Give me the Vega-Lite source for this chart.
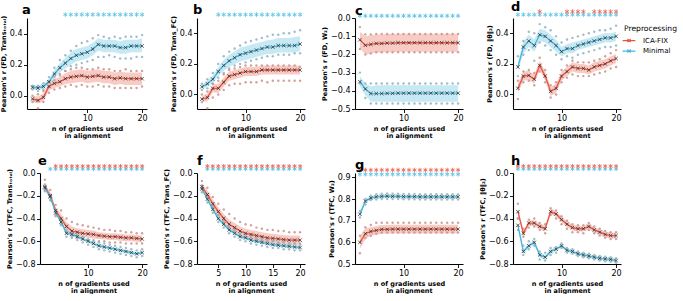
{
"$schema": "https://vega.github.io/schema/vega-lite/v6.json",
"padding": {"left": 0, "top": 0, "right": 0, "bottom": 0},
"background": "white",
"data": {"name": "main"},
"datasets": {"main": [
{"p":"a","g":"Minimal","n":0,"m":0.055,"lo":0.04,"hi":0.07,"s1":0.065,"s2":0.04},
{"p":"a","g":"Minimal","n":1,"m":0.05,"lo":0.035,"hi":0.065,"s1":0.065,"s2":0.03},
{"p":"a","g":"Minimal","n":2,"m":0.06,"lo":0.045,"hi":0.075,"s1":0.08,"s2":0.04},
{"p":"a","g":"Minimal","n":3,"m":0.09,"lo":0.07,"hi":0.11,"s1":0.12,"s2":0.06},
{"p":"a","g":"Minimal","n":4,"m":0.14,"lo":0.115,"hi":0.165,"s1":0.18,"s2":0.1},
{"p":"a","g":"Minimal","n":5,"m":0.18,"lo":0.15,"hi":0.21,"s1":0.23,"s2":0.13},
{"p":"a","g":"Minimal","n":6,"m":0.21,"lo":0.175,"hi":0.245,"s1":0.26,"s2":0.16,"sig":1},
{"p":"a","g":"Minimal","n":7,"m":0.24,"lo":0.2,"hi":0.28,"s1":0.29,"s2":0.19,"sig":1},
{"p":"a","g":"Minimal","n":8,"m":0.26,"lo":0.22,"hi":0.3,"s1":0.32,"s2":0.2,"sig":1},
{"p":"a","g":"Minimal","n":9,"m":0.27,"lo":0.23,"hi":0.31,"s1":0.34,"s2":0.21,"sig":1},
{"p":"a","g":"Minimal","n":10,"m":0.28,"lo":0.24,"hi":0.32,"s1":0.35,"s2":0.22,"sig":1},
{"p":"a","g":"Minimal","n":11,"m":0.3,"lo":0.26,"hi":0.34,"s1":0.37,"s2":0.23,"sig":1},
{"p":"a","g":"Minimal","n":12,"m":0.33,"lo":0.29,"hi":0.37,"s1":0.39,"s2":0.25,"sig":1},
{"p":"a","g":"Minimal","n":13,"m":0.32,"lo":0.28,"hi":0.36,"s1":0.38,"s2":0.25,"sig":1},
{"p":"a","g":"Minimal","n":14,"m":0.32,"lo":0.28,"hi":0.36,"s1":0.37,"s2":0.26,"sig":1},
{"p":"a","g":"Minimal","n":15,"m":0.32,"lo":0.28,"hi":0.36,"s1":0.38,"s2":0.25,"sig":1},
{"p":"a","g":"Minimal","n":16,"m":0.31,"lo":0.27,"hi":0.35,"s1":0.37,"s2":0.24,"sig":1},
{"p":"a","g":"Minimal","n":17,"m":0.31,"lo":0.27,"hi":0.36,"s1":0.38,"s2":0.24,"sig":1},
{"p":"a","g":"Minimal","n":18,"m":0.32,"lo":0.28,"hi":0.36,"s1":0.38,"s2":0.24,"sig":1},
{"p":"a","g":"Minimal","n":19,"m":0.32,"lo":0.28,"hi":0.36,"s1":0.38,"s2":0.25,"sig":1},
{"p":"a","g":"Minimal","n":20,"m":0.32,"lo":0.28,"hi":0.37,"s1":0.39,"s2":0.25,"sig":1},
{"p":"a","g":"ICA-FIX","n":0,"m":-0.02,"lo":-0.04,"hi":0.0,"s1":0.0,"s2":-0.04},
{"p":"a","g":"ICA-FIX","n":1,"m":-0.03,"lo":-0.05,"hi":-0.005,"s1":0.01,"s2":-0.08},
{"p":"a","g":"ICA-FIX","n":2,"m":-0.01,"lo":-0.035,"hi":0.015,"s1":0.03,"s2":-0.04},
{"p":"a","g":"ICA-FIX","n":3,"m":0.06,"lo":0.035,"hi":0.085,"s1":0.09,"s2":0.02},
{"p":"a","g":"ICA-FIX","n":4,"m":0.08,"lo":0.05,"hi":0.11,"s1":0.12,"s2":0.04},
{"p":"a","g":"ICA-FIX","n":5,"m":0.09,"lo":0.06,"hi":0.12,"s1":0.14,"s2":0.05},
{"p":"a","g":"ICA-FIX","n":6,"m":0.11,"lo":0.075,"hi":0.145,"s1":0.16,"s2":0.06},
{"p":"a","g":"ICA-FIX","n":7,"m":0.12,"lo":0.08,"hi":0.16,"s1":0.17,"s2":0.07},
{"p":"a","g":"ICA-FIX","n":8,"m":0.125,"lo":0.085,"hi":0.165,"s1":0.18,"s2":0.06},
{"p":"a","g":"ICA-FIX","n":9,"m":0.13,"lo":0.09,"hi":0.17,"s1":0.18,"s2":0.07},
{"p":"a","g":"ICA-FIX","n":10,"m":0.12,"lo":0.08,"hi":0.16,"s1":0.17,"s2":0.06},
{"p":"a","g":"ICA-FIX","n":11,"m":0.125,"lo":0.085,"hi":0.165,"s1":0.17,"s2":0.06},
{"p":"a","g":"ICA-FIX","n":12,"m":0.13,"lo":0.09,"hi":0.17,"s1":0.18,"s2":0.07},
{"p":"a","g":"ICA-FIX","n":13,"m":0.12,"lo":0.08,"hi":0.16,"s1":0.17,"s2":0.06},
{"p":"a","g":"ICA-FIX","n":14,"m":0.12,"lo":0.08,"hi":0.16,"s1":0.17,"s2":0.06},
{"p":"a","g":"ICA-FIX","n":15,"m":0.11,"lo":0.07,"hi":0.15,"s1":0.16,"s2":0.05},
{"p":"a","g":"ICA-FIX","n":16,"m":0.115,"lo":0.075,"hi":0.155,"s1":0.16,"s2":0.05},
{"p":"a","g":"ICA-FIX","n":17,"m":0.11,"lo":0.07,"hi":0.15,"s1":0.17,"s2":0.05},
{"p":"a","g":"ICA-FIX","n":18,"m":0.11,"lo":0.07,"hi":0.15,"s1":0.16,"s2":0.05},
{"p":"a","g":"ICA-FIX","n":19,"m":0.11,"lo":0.07,"hi":0.15,"s1":0.16,"s2":0.05},
{"p":"a","g":"ICA-FIX","n":20,"m":0.11,"lo":0.07,"hi":0.15,"s1":0.16,"s2":0.06},

{"p":"b","g":"Minimal","n":2,"m":0.05,"lo":0.035,"hi":0.065,"s1":0.07,"s2":0.03},
{"p":"b","g":"Minimal","n":3,"m":0.07,"lo":0.05,"hi":0.09,"s1":0.1,"s2":0.04},
{"p":"b","g":"Minimal","n":4,"m":0.1,"lo":0.075,"hi":0.125,"s1":0.14,"s2":0.07},
{"p":"b","g":"Minimal","n":5,"m":0.15,"lo":0.12,"hi":0.18,"s1":0.2,"s2":0.11,"sig":1},
{"p":"b","g":"Minimal","n":6,"m":0.19,"lo":0.155,"hi":0.225,"s1":0.25,"s2":0.14,"sig":1},
{"p":"b","g":"Minimal","n":7,"m":0.22,"lo":0.18,"hi":0.26,"s1":0.28,"s2":0.17,"sig":1},
{"p":"b","g":"Minimal","n":8,"m":0.24,"lo":0.2,"hi":0.28,"s1":0.3,"s2":0.19,"sig":1},
{"p":"b","g":"Minimal","n":9,"m":0.26,"lo":0.215,"hi":0.305,"s1":0.32,"s2":0.2,"sig":1},
{"p":"b","g":"Minimal","n":10,"m":0.27,"lo":0.225,"hi":0.315,"s1":0.34,"s2":0.21,"sig":1},
{"p":"b","g":"Minimal","n":11,"m":0.28,"lo":0.235,"hi":0.325,"s1":0.35,"s2":0.22,"sig":1},
{"p":"b","g":"Minimal","n":12,"m":0.29,"lo":0.245,"hi":0.335,"s1":0.36,"s2":0.23,"sig":1},
{"p":"b","g":"Minimal","n":13,"m":0.3,"lo":0.255,"hi":0.345,"s1":0.37,"s2":0.24,"sig":1},
{"p":"b","g":"Minimal","n":14,"m":0.31,"lo":0.265,"hi":0.355,"s1":0.38,"s2":0.25,"sig":1},
{"p":"b","g":"Minimal","n":15,"m":0.31,"lo":0.265,"hi":0.36,"s1":0.39,"s2":0.25,"sig":1},
{"p":"b","g":"Minimal","n":16,"m":0.32,"lo":0.275,"hi":0.37,"s1":0.39,"s2":0.26,"sig":1},
{"p":"b","g":"Minimal","n":17,"m":0.32,"lo":0.275,"hi":0.37,"s1":0.4,"s2":0.26,"sig":1},
{"p":"b","g":"Minimal","n":18,"m":0.32,"lo":0.275,"hi":0.37,"s1":0.4,"s2":0.26,"sig":1},
{"p":"b","g":"Minimal","n":19,"m":0.32,"lo":0.275,"hi":0.375,"s1":0.41,"s2":0.27,"sig":1},
{"p":"b","g":"Minimal","n":20,"m":0.33,"lo":0.285,"hi":0.38,"s1":0.42,"s2":0.27,"sig":1},
{"p":"b","g":"ICA-FIX","n":2,"m":-0.03,"lo":-0.05,"hi":-0.01,"s1":0.0,"s2":-0.05},
{"p":"b","g":"ICA-FIX","n":3,"m":-0.02,"lo":-0.045,"hi":0.005,"s1":0.02,"s2":-0.09},
{"p":"b","g":"ICA-FIX","n":4,"m":0.04,"lo":0.015,"hi":0.065,"s1":0.07,"s2":-0.02},
{"p":"b","g":"ICA-FIX","n":5,"m":0.04,"lo":0.01,"hi":0.07,"s1":0.09,"s2":0.0},
{"p":"b","g":"ICA-FIX","n":6,"m":0.08,"lo":0.05,"hi":0.11,"s1":0.13,"s2":0.03},
{"p":"b","g":"ICA-FIX","n":7,"m":0.12,"lo":0.09,"hi":0.15,"s1":0.16,"s2":0.06},
{"p":"b","g":"ICA-FIX","n":8,"m":0.13,"lo":0.1,"hi":0.16,"s1":0.17,"s2":0.07},
{"p":"b","g":"ICA-FIX","n":9,"m":0.14,"lo":0.11,"hi":0.17,"s1":0.18,"s2":0.07},
{"p":"b","g":"ICA-FIX","n":10,"m":0.15,"lo":0.12,"hi":0.18,"s1":0.19,"s2":0.08},
{"p":"b","g":"ICA-FIX","n":11,"m":0.15,"lo":0.12,"hi":0.18,"s1":0.19,"s2":0.08},
{"p":"b","g":"ICA-FIX","n":12,"m":0.15,"lo":0.12,"hi":0.18,"s1":0.19,"s2":0.08},
{"p":"b","g":"ICA-FIX","n":13,"m":0.16,"lo":0.13,"hi":0.19,"s1":0.19,"s2":0.09},
{"p":"b","g":"ICA-FIX","n":14,"m":0.16,"lo":0.13,"hi":0.19,"s1":0.19,"s2":0.08},
{"p":"b","g":"ICA-FIX","n":15,"m":0.16,"lo":0.13,"hi":0.19,"s1":0.19,"s2":0.09},
{"p":"b","g":"ICA-FIX","n":16,"m":0.16,"lo":0.13,"hi":0.19,"s1":0.19,"s2":0.09},
{"p":"b","g":"ICA-FIX","n":17,"m":0.16,"lo":0.13,"hi":0.19,"s1":0.19,"s2":0.09},
{"p":"b","g":"ICA-FIX","n":18,"m":0.16,"lo":0.13,"hi":0.19,"s1":0.19,"s2":0.09},
{"p":"b","g":"ICA-FIX","n":19,"m":0.16,"lo":0.13,"hi":0.19,"s1":0.19,"s2":0.09},
{"p":"b","g":"ICA-FIX","n":20,"m":0.16,"lo":0.13,"hi":0.19,"s1":0.18,"s2":0.09},

{"p":"c","g":"ICA-FIX","n":2,"m":-0.12,"lo":-0.165,"hi":-0.075,"s1":-0.05,"s2":-0.17},
{"p":"c","g":"ICA-FIX","n":3,"m":-0.15,"lo":-0.2,"hi":-0.1,"s1":-0.09,"s2":-0.2},
{"p":"c","g":"ICA-FIX","n":4,"m":-0.145,"lo":-0.195,"hi":-0.095,"s1":-0.09,"s2":-0.195},
{"p":"c","g":"ICA-FIX","n":5,"m":-0.14,"lo":-0.19,"hi":-0.09,"s1":-0.088,"s2":-0.188},
{"p":"c","g":"ICA-FIX","n":6,"m":-0.14,"lo":-0.19,"hi":-0.09,"s1":-0.088,"s2":-0.188},
{"p":"c","g":"ICA-FIX","n":7,"m":-0.138,"lo":-0.188,"hi":-0.088,"s1":-0.088,"s2":-0.188},
{"p":"c","g":"ICA-FIX","n":8,"m":-0.138,"lo":-0.188,"hi":-0.088,"s1":-0.088,"s2":-0.188},
{"p":"c","g":"ICA-FIX","n":9,"m":-0.136,"lo":-0.186,"hi":-0.086,"s1":-0.088,"s2":-0.188},
{"p":"c","g":"ICA-FIX","n":10,"m":-0.136,"lo":-0.186,"hi":-0.086,"s1":-0.088,"s2":-0.188},
{"p":"c","g":"ICA-FIX","n":11,"m":-0.136,"lo":-0.186,"hi":-0.086,"s1":-0.088,"s2":-0.188},
{"p":"c","g":"ICA-FIX","n":12,"m":-0.136,"lo":-0.186,"hi":-0.086,"s1":-0.088,"s2":-0.188},
{"p":"c","g":"ICA-FIX","n":13,"m":-0.136,"lo":-0.186,"hi":-0.086,"s1":-0.088,"s2":-0.188},
{"p":"c","g":"ICA-FIX","n":14,"m":-0.136,"lo":-0.186,"hi":-0.086,"s1":-0.088,"s2":-0.188},
{"p":"c","g":"ICA-FIX","n":15,"m":-0.136,"lo":-0.186,"hi":-0.086,"s1":-0.088,"s2":-0.188},
{"p":"c","g":"ICA-FIX","n":16,"m":-0.136,"lo":-0.186,"hi":-0.086,"s1":-0.088,"s2":-0.188},
{"p":"c","g":"ICA-FIX","n":17,"m":-0.136,"lo":-0.186,"hi":-0.086,"s1":-0.088,"s2":-0.188},
{"p":"c","g":"ICA-FIX","n":18,"m":-0.136,"lo":-0.186,"hi":-0.086,"s1":-0.088,"s2":-0.188},
{"p":"c","g":"ICA-FIX","n":19,"m":-0.136,"lo":-0.186,"hi":-0.086,"s1":-0.088,"s2":-0.188},
{"p":"c","g":"ICA-FIX","n":20,"m":-0.136,"lo":-0.186,"hi":-0.086,"s1":-0.088,"s2":-0.188},
{"p":"c","g":"Minimal","n":2,"m":-0.35,"lo":-0.375,"hi":-0.32,"s1":-0.3,"s2":-0.36,"sig":1},
{"p":"c","g":"Minimal","n":3,"m":-0.39,"lo":-0.425,"hi":-0.36,"s1":-0.36,"s2":-0.44,"sig":1},
{"p":"c","g":"Minimal","n":4,"m":-0.415,"lo":-0.46,"hi":-0.375,"s1":-0.36,"s2":-0.47,"sig":1},
{"p":"c","g":"Minimal","n":5,"m":-0.415,"lo":-0.46,"hi":-0.37,"s1":-0.36,"s2":-0.47,"sig":1},
{"p":"c","g":"Minimal","n":6,"m":-0.415,"lo":-0.46,"hi":-0.37,"s1":-0.36,"s2":-0.47,"sig":1},
{"p":"c","g":"Minimal","n":7,"m":-0.414,"lo":-0.46,"hi":-0.37,"s1":-0.36,"s2":-0.47,"sig":1},
{"p":"c","g":"Minimal","n":8,"m":-0.414,"lo":-0.46,"hi":-0.37,"s1":-0.36,"s2":-0.47,"sig":1},
{"p":"c","g":"Minimal","n":9,"m":-0.413,"lo":-0.46,"hi":-0.37,"s1":-0.36,"s2":-0.47,"sig":1},
{"p":"c","g":"Minimal","n":10,"m":-0.413,"lo":-0.46,"hi":-0.37,"s1":-0.36,"s2":-0.47,"sig":1},
{"p":"c","g":"Minimal","n":11,"m":-0.413,"lo":-0.46,"hi":-0.37,"s1":-0.36,"s2":-0.47,"sig":1},
{"p":"c","g":"Minimal","n":12,"m":-0.413,"lo":-0.46,"hi":-0.37,"s1":-0.36,"s2":-0.47,"sig":1},
{"p":"c","g":"Minimal","n":13,"m":-0.413,"lo":-0.46,"hi":-0.37,"s1":-0.36,"s2":-0.47,"sig":1},
{"p":"c","g":"Minimal","n":14,"m":-0.413,"lo":-0.46,"hi":-0.37,"s1":-0.36,"s2":-0.47,"sig":1},
{"p":"c","g":"Minimal","n":15,"m":-0.413,"lo":-0.46,"hi":-0.37,"s1":-0.36,"s2":-0.47,"sig":1},
{"p":"c","g":"Minimal","n":16,"m":-0.413,"lo":-0.46,"hi":-0.37,"s1":-0.36,"s2":-0.47,"sig":1},
{"p":"c","g":"Minimal","n":17,"m":-0.413,"lo":-0.46,"hi":-0.37,"s1":-0.36,"s2":-0.47,"sig":1},
{"p":"c","g":"Minimal","n":18,"m":-0.413,"lo":-0.46,"hi":-0.37,"s1":-0.36,"s2":-0.47,"sig":1},
{"p":"c","g":"Minimal","n":19,"m":-0.413,"lo":-0.46,"hi":-0.37,"s1":-0.36,"s2":-0.47,"sig":1},
{"p":"c","g":"Minimal","n":20,"m":-0.413,"lo":-0.46,"hi":-0.37,"s1":-0.36,"s2":-0.47,"sig":1},

{"p":"d","g":"Minimal","n":2,"m":0.18,"lo":0.15,"hi":0.21,"s1":0.25,"s2":0.12,"sig":1},
{"p":"d","g":"Minimal","n":3,"m":0.31,"lo":0.27,"hi":0.35,"s1":0.35,"s2":0.26,"sig":1},
{"p":"d","g":"Minimal","n":4,"m":0.35,"lo":0.31,"hi":0.39,"s1":0.41,"s2":0.29,"sig":1},
{"p":"d","g":"Minimal","n":5,"m":0.32,"lo":0.28,"hi":0.36,"s1":0.4,"s2":0.22,"sig":1},
{"p":"d","g":"Minimal","n":6,"m":0.39,"lo":0.35,"hi":0.43,"s1":0.46,"s2":0.34,"sig":1},
{"p":"d","g":"Minimal","n":7,"m":0.38,"lo":0.34,"hi":0.42,"s1":0.44,"s2":0.32,"sig":1},
{"p":"d","g":"Minimal","n":8,"m":0.35,"lo":0.31,"hi":0.39,"s1":0.42,"s2":0.29,"sig":1},
{"p":"d","g":"Minimal","n":9,"m":0.32,"lo":0.28,"hi":0.36,"s1":0.38,"s2":0.26,"sig":1},
{"p":"d","g":"Minimal","n":10,"m":0.28,"lo":0.25,"hi":0.31,"s1":0.34,"s2":0.23,"sig":1},
{"p":"d","g":"Minimal","n":11,"m":0.3,"lo":0.27,"hi":0.33,"s1":0.36,"s2":0.25,"sig":1},
{"p":"d","g":"Minimal","n":12,"m":0.3,"lo":0.27,"hi":0.34,"s1":0.37,"s2":0.24,"sig":1},
{"p":"d","g":"Minimal","n":13,"m":0.32,"lo":0.29,"hi":0.35,"s1":0.38,"s2":0.26,"sig":1},
{"p":"d","g":"Minimal","n":14,"m":0.33,"lo":0.3,"hi":0.36,"s1":0.39,"s2":0.27,"sig":1},
{"p":"d","g":"Minimal","n":15,"m":0.34,"lo":0.31,"hi":0.37,"s1":0.4,"s2":0.28,"sig":1},
{"p":"d","g":"Minimal","n":16,"m":0.35,"lo":0.32,"hi":0.38,"s1":0.41,"s2":0.29,"sig":1},
{"p":"d","g":"Minimal","n":17,"m":0.36,"lo":0.33,"hi":0.39,"s1":0.42,"s2":0.3,"sig":1},
{"p":"d","g":"Minimal","n":18,"m":0.37,"lo":0.34,"hi":0.4,"s1":0.42,"s2":0.31,"sig":1},
{"p":"d","g":"Minimal","n":19,"m":0.37,"lo":0.34,"hi":0.4,"s1":0.43,"s2":0.31,"sig":1},
{"p":"d","g":"Minimal","n":20,"m":0.38,"lo":0.35,"hi":0.41,"s1":0.45,"s2":0.32,"sig":1},
{"p":"d","g":"ICA-FIX","n":2,"m":0.04,"lo":0.01,"hi":0.07,"s1":0.09,"s2":-0.03},
{"p":"d","g":"ICA-FIX","n":3,"m":0.12,"lo":0.09,"hi":0.15,"s1":0.15,"s2":0.08},
{"p":"d","g":"ICA-FIX","n":4,"m":0.125,"lo":0.095,"hi":0.155,"s1":0.16,"s2":0.09},
{"p":"d","g":"ICA-FIX","n":5,"m":0.1,"lo":0.07,"hi":0.13,"s1":0.14,"s2":0.06},
{"p":"d","g":"ICA-FIX","n":6,"m":0.19,"lo":0.16,"hi":0.22,"s1":0.24,"s2":0.15,"sig":1},
{"p":"d","g":"ICA-FIX","n":7,"m":0.12,"lo":0.09,"hi":0.15,"s1":0.16,"s2":0.08},
{"p":"d","g":"ICA-FIX","n":8,"m":0.02,"lo":-0.01,"hi":0.05,"s1":0.06,"s2":-0.02},
{"p":"d","g":"ICA-FIX","n":9,"m":0.04,"lo":0.01,"hi":0.07,"s1":0.08,"s2":0.0},
{"p":"d","g":"ICA-FIX","n":10,"m":0.12,"lo":0.09,"hi":0.15,"s1":0.16,"s2":0.08},
{"p":"d","g":"ICA-FIX","n":11,"m":0.15,"lo":0.12,"hi":0.18,"s1":0.19,"s2":0.11,"sig":1},
{"p":"d","g":"ICA-FIX","n":12,"m":0.18,"lo":0.15,"hi":0.21,"s1":0.22,"s2":0.13,"sig":1},
{"p":"d","g":"ICA-FIX","n":13,"m":0.17,"lo":0.14,"hi":0.2,"s1":0.21,"s2":0.12,"sig":1},
{"p":"d","g":"ICA-FIX","n":14,"m":0.17,"lo":0.14,"hi":0.2,"s1":0.21,"s2":0.12,"sig":1},
{"p":"d","g":"ICA-FIX","n":15,"m":0.16,"lo":0.13,"hi":0.19,"s1":0.21,"s2":0.12},
{"p":"d","g":"ICA-FIX","n":16,"m":0.18,"lo":0.15,"hi":0.21,"s1":0.22,"s2":0.13,"sig":1},
{"p":"d","g":"ICA-FIX","n":17,"m":0.19,"lo":0.16,"hi":0.22,"s1":0.23,"s2":0.14,"sig":1},
{"p":"d","g":"ICA-FIX","n":18,"m":0.2,"lo":0.17,"hi":0.23,"s1":0.25,"s2":0.15,"sig":1},
{"p":"d","g":"ICA-FIX","n":19,"m":0.22,"lo":0.19,"hi":0.25,"s1":0.27,"s2":0.17,"sig":1},
{"p":"d","g":"ICA-FIX","n":20,"m":0.235,"lo":0.205,"hi":0.265,"s1":0.29,"s2":0.18,"sig":1},

{"p":"e","g":"ICA-FIX","n":2,"m":-0.12,"lo":-0.15,"hi":-0.09,"s1":-0.06,"s2":-0.15},
{"p":"e","g":"ICA-FIX","n":3,"m":-0.2,"lo":-0.23,"hi":-0.17,"s1":-0.15,"s2":-0.24},
{"p":"e","g":"ICA-FIX","n":4,"m":-0.33,"lo":-0.36,"hi":-0.3,"s1":-0.28,"s2":-0.37,"sig":1},
{"p":"e","g":"ICA-FIX","n":5,"m":-0.4,"lo":-0.44,"hi":-0.36,"s1":-0.33,"s2":-0.45,"sig":1},
{"p":"e","g":"ICA-FIX","n":6,"m":-0.47,"lo":-0.51,"hi":-0.43,"s1":-0.4,"s2":-0.52,"sig":1},
{"p":"e","g":"ICA-FIX","n":7,"m":-0.51,"lo":-0.55,"hi":-0.47,"s1":-0.43,"s2":-0.56,"sig":1},
{"p":"e","g":"ICA-FIX","n":8,"m":-0.52,"lo":-0.555,"hi":-0.485,"s1":-0.45,"s2":-0.57,"sig":1},
{"p":"e","g":"ICA-FIX","n":9,"m":-0.53,"lo":-0.565,"hi":-0.495,"s1":-0.46,"s2":-0.58,"sig":1},
{"p":"e","g":"ICA-FIX","n":10,"m":-0.535,"lo":-0.57,"hi":-0.5,"s1":-0.47,"s2":-0.59,"sig":1},
{"p":"e","g":"ICA-FIX","n":11,"m":-0.54,"lo":-0.575,"hi":-0.505,"s1":-0.48,"s2":-0.59,"sig":1},
{"p":"e","g":"ICA-FIX","n":12,"m":-0.55,"lo":-0.58,"hi":-0.52,"s1":-0.49,"s2":-0.6,"sig":1},
{"p":"e","g":"ICA-FIX","n":13,"m":-0.555,"lo":-0.585,"hi":-0.525,"s1":-0.5,"s2":-0.6,"sig":1},
{"p":"e","g":"ICA-FIX","n":14,"m":-0.56,"lo":-0.59,"hi":-0.53,"s1":-0.5,"s2":-0.61,"sig":1},
{"p":"e","g":"ICA-FIX","n":15,"m":-0.56,"lo":-0.59,"hi":-0.53,"s1":-0.51,"s2":-0.61,"sig":1},
{"p":"e","g":"ICA-FIX","n":16,"m":-0.565,"lo":-0.595,"hi":-0.535,"s1":-0.51,"s2":-0.61,"sig":1},
{"p":"e","g":"ICA-FIX","n":17,"m":-0.57,"lo":-0.6,"hi":-0.54,"s1":-0.52,"s2":-0.62,"sig":1},
{"p":"e","g":"ICA-FIX","n":18,"m":-0.57,"lo":-0.6,"hi":-0.54,"s1":-0.52,"s2":-0.62,"sig":1},
{"p":"e","g":"ICA-FIX","n":19,"m":-0.575,"lo":-0.605,"hi":-0.545,"s1":-0.53,"s2":-0.62,"sig":1},
{"p":"e","g":"ICA-FIX","n":20,"m":-0.58,"lo":-0.61,"hi":-0.55,"s1":-0.53,"s2":-0.62,"sig":1},
{"p":"e","g":"Minimal","n":2,"m":-0.13,"lo":-0.145,"hi":-0.115,"s1":-0.1,"s2":-0.16},
{"p":"e","g":"Minimal","n":3,"m":-0.21,"lo":-0.225,"hi":-0.195,"s1":-0.19,"s2":-0.24,"sig":1},
{"p":"e","g":"Minimal","n":4,"m":-0.35,"lo":-0.365,"hi":-0.335,"s1":-0.33,"s2":-0.38,"sig":1},
{"p":"e","g":"Minimal","n":5,"m":-0.43,"lo":-0.445,"hi":-0.415,"s1":-0.41,"s2":-0.46,"sig":1},
{"p":"e","g":"Minimal","n":6,"m":-0.53,"lo":-0.545,"hi":-0.515,"s1":-0.5,"s2":-0.56,"sig":1},
{"p":"e","g":"Minimal","n":7,"m":-0.54,"lo":-0.555,"hi":-0.525,"s1":-0.52,"s2":-0.57,"sig":1},
{"p":"e","g":"Minimal","n":8,"m":-0.56,"lo":-0.575,"hi":-0.545,"s1":-0.54,"s2":-0.59,"sig":1},
{"p":"e","g":"Minimal","n":9,"m":-0.58,"lo":-0.595,"hi":-0.565,"s1":-0.56,"s2":-0.61,"sig":1},
{"p":"e","g":"Minimal","n":10,"m":-0.6,"lo":-0.615,"hi":-0.585,"s1":-0.58,"s2":-0.63,"sig":1},
{"p":"e","g":"Minimal","n":11,"m":-0.62,"lo":-0.635,"hi":-0.605,"s1":-0.6,"s2":-0.65,"sig":1},
{"p":"e","g":"Minimal","n":12,"m":-0.64,"lo":-0.655,"hi":-0.625,"s1":-0.61,"s2":-0.67,"sig":1},
{"p":"e","g":"Minimal","n":13,"m":-0.65,"lo":-0.665,"hi":-0.635,"s1":-0.62,"s2":-0.68,"sig":1},
{"p":"e","g":"Minimal","n":14,"m":-0.66,"lo":-0.675,"hi":-0.645,"s1":-0.63,"s2":-0.69,"sig":1},
{"p":"e","g":"Minimal","n":15,"m":-0.67,"lo":-0.685,"hi":-0.655,"s1":-0.64,"s2":-0.7,"sig":1},
{"p":"e","g":"Minimal","n":16,"m":-0.68,"lo":-0.695,"hi":-0.665,"s1":-0.65,"s2":-0.71,"sig":1},
{"p":"e","g":"Minimal","n":17,"m":-0.69,"lo":-0.705,"hi":-0.675,"s1":-0.66,"s2":-0.72,"sig":1},
{"p":"e","g":"Minimal","n":18,"m":-0.7,"lo":-0.715,"hi":-0.685,"s1":-0.67,"s2":-0.73,"sig":1},
{"p":"e","g":"Minimal","n":19,"m":-0.71,"lo":-0.725,"hi":-0.695,"s1":-0.68,"s2":-0.74,"sig":1},
{"p":"e","g":"Minimal","n":20,"m":-0.7,"lo":-0.715,"hi":-0.685,"s1":-0.67,"s2":-0.73,"sig":1},

{"p":"f","g":"ICA-FIX","n":2,"m":-0.12,"lo":-0.15,"hi":-0.09,"s1":-0.07,"s2":-0.14},
{"p":"f","g":"ICA-FIX","n":3,"m":-0.19,"lo":-0.23,"hi":-0.15,"s1":-0.13,"s2":-0.22,"sig":1},
{"p":"f","g":"ICA-FIX","n":4,"m":-0.27,"lo":-0.31,"hi":-0.23,"s1":-0.21,"s2":-0.3,"sig":1},
{"p":"f","g":"ICA-FIX","n":5,"m":-0.34,"lo":-0.38,"hi":-0.3,"s1":-0.27,"s2":-0.37,"sig":1},
{"p":"f","g":"ICA-FIX","n":6,"m":-0.4,"lo":-0.44,"hi":-0.36,"s1":-0.32,"s2":-0.43,"sig":1},
{"p":"f","g":"ICA-FIX","n":7,"m":-0.45,"lo":-0.49,"hi":-0.41,"s1":-0.36,"s2":-0.48,"sig":1},
{"p":"f","g":"ICA-FIX","n":8,"m":-0.48,"lo":-0.52,"hi":-0.44,"s1":-0.4,"s2":-0.51,"sig":1},
{"p":"f","g":"ICA-FIX","n":9,"m":-0.51,"lo":-0.55,"hi":-0.47,"s1":-0.43,"s2":-0.54,"sig":1},
{"p":"f","g":"ICA-FIX","n":10,"m":-0.53,"lo":-0.57,"hi":-0.49,"s1":-0.45,"s2":-0.56,"sig":1},
{"p":"f","g":"ICA-FIX","n":11,"m":-0.54,"lo":-0.58,"hi":-0.5,"s1":-0.46,"s2":-0.57,"sig":1},
{"p":"f","g":"ICA-FIX","n":12,"m":-0.55,"lo":-0.59,"hi":-0.51,"s1":-0.48,"s2":-0.58,"sig":1},
{"p":"f","g":"ICA-FIX","n":13,"m":-0.56,"lo":-0.6,"hi":-0.52,"s1":-0.49,"s2":-0.59,"sig":1},
{"p":"f","g":"ICA-FIX","n":14,"m":-0.57,"lo":-0.61,"hi":-0.53,"s1":-0.5,"s2":-0.6,"sig":1},
{"p":"f","g":"ICA-FIX","n":15,"m":-0.575,"lo":-0.615,"hi":-0.535,"s1":-0.5,"s2":-0.6,"sig":1},
{"p":"f","g":"ICA-FIX","n":16,"m":-0.58,"lo":-0.62,"hi":-0.54,"s1":-0.51,"s2":-0.61,"sig":1},
{"p":"f","g":"ICA-FIX","n":17,"m":-0.585,"lo":-0.625,"hi":-0.545,"s1":-0.51,"s2":-0.61,"sig":1},
{"p":"f","g":"ICA-FIX","n":18,"m":-0.59,"lo":-0.63,"hi":-0.55,"s1":-0.52,"s2":-0.62,"sig":1},
{"p":"f","g":"ICA-FIX","n":19,"m":-0.59,"lo":-0.63,"hi":-0.55,"s1":-0.52,"s2":-0.62,"sig":1},
{"p":"f","g":"ICA-FIX","n":20,"m":-0.59,"lo":-0.63,"hi":-0.55,"s1":-0.52,"s2":-0.62,"sig":1},
{"p":"f","g":"Minimal","n":2,"m":-0.14,"lo":-0.155,"hi":-0.125,"s1":-0.11,"s2":-0.17},
{"p":"f","g":"Minimal","n":3,"m":-0.23,"lo":-0.245,"hi":-0.215,"s1":-0.2,"s2":-0.26,"sig":1},
{"p":"f","g":"Minimal","n":4,"m":-0.32,"lo":-0.335,"hi":-0.305,"s1":-0.29,"s2":-0.35,"sig":1},
{"p":"f","g":"Minimal","n":5,"m":-0.4,"lo":-0.415,"hi":-0.385,"s1":-0.37,"s2":-0.43,"sig":1},
{"p":"f","g":"Minimal","n":6,"m":-0.45,"lo":-0.465,"hi":-0.435,"s1":-0.42,"s2":-0.48,"sig":1},
{"p":"f","g":"Minimal","n":7,"m":-0.5,"lo":-0.515,"hi":-0.485,"s1":-0.47,"s2":-0.53,"sig":1},
{"p":"f","g":"Minimal","n":8,"m":-0.53,"lo":-0.545,"hi":-0.515,"s1":-0.5,"s2":-0.56,"sig":1},
{"p":"f","g":"Minimal","n":9,"m":-0.56,"lo":-0.575,"hi":-0.545,"s1":-0.53,"s2":-0.59,"sig":1},
{"p":"f","g":"Minimal","n":10,"m":-0.57,"lo":-0.585,"hi":-0.555,"s1":-0.54,"s2":-0.6,"sig":1},
{"p":"f","g":"Minimal","n":11,"m":-0.59,"lo":-0.605,"hi":-0.575,"s1":-0.56,"s2":-0.62,"sig":1},
{"p":"f","g":"Minimal","n":12,"m":-0.6,"lo":-0.615,"hi":-0.585,"s1":-0.57,"s2":-0.63,"sig":1},
{"p":"f","g":"Minimal","n":13,"m":-0.61,"lo":-0.625,"hi":-0.595,"s1":-0.58,"s2":-0.64,"sig":1},
{"p":"f","g":"Minimal","n":14,"m":-0.62,"lo":-0.635,"hi":-0.605,"s1":-0.59,"s2":-0.65,"sig":1},
{"p":"f","g":"Minimal","n":15,"m":-0.63,"lo":-0.645,"hi":-0.615,"s1":-0.6,"s2":-0.66,"sig":1},
{"p":"f","g":"Minimal","n":16,"m":-0.635,"lo":-0.65,"hi":-0.62,"s1":-0.61,"s2":-0.66,"sig":1},
{"p":"f","g":"Minimal","n":17,"m":-0.64,"lo":-0.655,"hi":-0.625,"s1":-0.61,"s2":-0.67,"sig":1},
{"p":"f","g":"Minimal","n":18,"m":-0.645,"lo":-0.66,"hi":-0.63,"s1":-0.62,"s2":-0.67,"sig":1},
{"p":"f","g":"Minimal","n":19,"m":-0.65,"lo":-0.665,"hi":-0.635,"s1":-0.62,"s2":-0.68,"sig":1},
{"p":"f","g":"Minimal","n":20,"m":-0.655,"lo":-0.67,"hi":-0.64,"s1":-0.63,"s2":-0.68,"sig":1},

{"p":"g","g":"Minimal","n":2,"m":0.73,"lo":0.715,"hi":0.745,"s1":0.745,"s2":0.715,"sig":1},
{"p":"g","g":"Minimal","n":3,"m":0.79,"lo":0.78,"hi":0.8,"s1":0.8,"s2":0.775,"sig":1},
{"p":"g","g":"Minimal","n":4,"m":0.805,"lo":0.797,"hi":0.813,"s1":0.815,"s2":0.795,"sig":1},
{"p":"g","g":"Minimal","n":5,"m":0.81,"lo":0.802,"hi":0.818,"s1":0.822,"s2":0.798,"sig":1},
{"p":"g","g":"Minimal","n":6,"m":0.812,"lo":0.804,"hi":0.82,"s1":0.824,"s2":0.8,"sig":1},
{"p":"g","g":"Minimal","n":7,"m":0.813,"lo":0.805,"hi":0.821,"s1":0.825,"s2":0.8,"sig":1},
{"p":"g","g":"Minimal","n":8,"m":0.812,"lo":0.804,"hi":0.82,"s1":0.824,"s2":0.8,"sig":1},
{"p":"g","g":"Minimal","n":9,"m":0.812,"lo":0.804,"hi":0.82,"s1":0.824,"s2":0.8,"sig":1},
{"p":"g","g":"Minimal","n":10,"m":0.811,"lo":0.803,"hi":0.819,"s1":0.823,"s2":0.799,"sig":1},
{"p":"g","g":"Minimal","n":11,"m":0.811,"lo":0.803,"hi":0.819,"s1":0.823,"s2":0.799,"sig":1},
{"p":"g","g":"Minimal","n":12,"m":0.811,"lo":0.803,"hi":0.819,"s1":0.823,"s2":0.799,"sig":1},
{"p":"g","g":"Minimal","n":13,"m":0.81,"lo":0.802,"hi":0.818,"s1":0.822,"s2":0.798,"sig":1},
{"p":"g","g":"Minimal","n":14,"m":0.81,"lo":0.802,"hi":0.818,"s1":0.822,"s2":0.798,"sig":1},
{"p":"g","g":"Minimal","n":15,"m":0.81,"lo":0.802,"hi":0.818,"s1":0.822,"s2":0.798,"sig":1},
{"p":"g","g":"Minimal","n":16,"m":0.81,"lo":0.802,"hi":0.818,"s1":0.822,"s2":0.798,"sig":1},
{"p":"g","g":"Minimal","n":17,"m":0.81,"lo":0.802,"hi":0.818,"s1":0.822,"s2":0.798,"sig":1},
{"p":"g","g":"Minimal","n":18,"m":0.81,"lo":0.802,"hi":0.818,"s1":0.822,"s2":0.798,"sig":1},
{"p":"g","g":"Minimal","n":19,"m":0.81,"lo":0.802,"hi":0.818,"s1":0.822,"s2":0.798,"sig":1},
{"p":"g","g":"Minimal","n":20,"m":0.81,"lo":0.802,"hi":0.818,"s1":0.822,"s2":0.798,"sig":1},
{"p":"g","g":"ICA-FIX","n":2,"m":0.6,"lo":0.57,"hi":0.63,"s1":0.63,"s2":0.55,"sig":1},
{"p":"g","g":"ICA-FIX","n":3,"m":0.64,"lo":0.615,"hi":0.665,"s1":0.67,"s2":0.62,"sig":1},
{"p":"g","g":"ICA-FIX","n":4,"m":0.65,"lo":0.63,"hi":0.67,"s1":0.68,"s2":0.63,"sig":1},
{"p":"g","g":"ICA-FIX","n":5,"m":0.655,"lo":0.635,"hi":0.675,"s1":0.69,"s2":0.64,"sig":1},
{"p":"g","g":"ICA-FIX","n":6,"m":0.66,"lo":0.64,"hi":0.68,"s1":0.69,"s2":0.645,"sig":1},
{"p":"g","g":"ICA-FIX","n":7,"m":0.66,"lo":0.64,"hi":0.68,"s1":0.69,"s2":0.645,"sig":1},
{"p":"g","g":"ICA-FIX","n":8,"m":0.661,"lo":0.641,"hi":0.681,"s1":0.69,"s2":0.645,"sig":1},
{"p":"g","g":"ICA-FIX","n":9,"m":0.661,"lo":0.641,"hi":0.681,"s1":0.69,"s2":0.645,"sig":1},
{"p":"g","g":"ICA-FIX","n":10,"m":0.661,"lo":0.641,"hi":0.681,"s1":0.69,"s2":0.645,"sig":1},
{"p":"g","g":"ICA-FIX","n":11,"m":0.661,"lo":0.641,"hi":0.681,"s1":0.69,"s2":0.645,"sig":1},
{"p":"g","g":"ICA-FIX","n":12,"m":0.661,"lo":0.641,"hi":0.681,"s1":0.69,"s2":0.645,"sig":1},
{"p":"g","g":"ICA-FIX","n":13,"m":0.661,"lo":0.641,"hi":0.681,"s1":0.69,"s2":0.645,"sig":1},
{"p":"g","g":"ICA-FIX","n":14,"m":0.661,"lo":0.641,"hi":0.681,"s1":0.69,"s2":0.645,"sig":1},
{"p":"g","g":"ICA-FIX","n":15,"m":0.661,"lo":0.641,"hi":0.681,"s1":0.69,"s2":0.645,"sig":1},
{"p":"g","g":"ICA-FIX","n":16,"m":0.661,"lo":0.641,"hi":0.681,"s1":0.69,"s2":0.645,"sig":1},
{"p":"g","g":"ICA-FIX","n":17,"m":0.661,"lo":0.641,"hi":0.681,"s1":0.69,"s2":0.645,"sig":1},
{"p":"g","g":"ICA-FIX","n":18,"m":0.661,"lo":0.641,"hi":0.681,"s1":0.69,"s2":0.645,"sig":1},
{"p":"g","g":"ICA-FIX","n":19,"m":0.661,"lo":0.641,"hi":0.681,"s1":0.69,"s2":0.645,"sig":1},
{"p":"g","g":"ICA-FIX","n":20,"m":0.661,"lo":0.641,"hi":0.681,"s1":0.69,"s2":0.645,"sig":1},

{"p":"h","g":"ICA-FIX","n":2,"m":-0.34,"lo":-0.37,"hi":-0.31,"s1":-0.27,"s2":-0.4,"sig":1},
{"p":"h","g":"ICA-FIX","n":3,"m":-0.53,"lo":-0.555,"hi":-0.505,"s1":-0.49,"s2":-0.56,"sig":1},
{"p":"h","g":"ICA-FIX","n":4,"m":-0.44,"lo":-0.465,"hi":-0.415,"s1":-0.41,"s2":-0.48,"sig":1},
{"p":"h","g":"ICA-FIX","n":5,"m":-0.44,"lo":-0.465,"hi":-0.415,"s1":-0.4,"s2":-0.47,"sig":1},
{"p":"h","g":"ICA-FIX","n":6,"m":-0.47,"lo":-0.495,"hi":-0.445,"s1":-0.44,"s2":-0.5,"sig":1},
{"p":"h","g":"ICA-FIX","n":7,"m":-0.49,"lo":-0.515,"hi":-0.465,"s1":-0.45,"s2":-0.53,"sig":1},
{"p":"h","g":"ICA-FIX","n":8,"m":-0.34,"lo":-0.365,"hi":-0.315,"s1":-0.31,"s2":-0.37,"sig":1},
{"p":"h","g":"ICA-FIX","n":9,"m":-0.36,"lo":-0.385,"hi":-0.335,"s1":-0.33,"s2":-0.4,"sig":1},
{"p":"h","g":"ICA-FIX","n":10,"m":-0.41,"lo":-0.435,"hi":-0.385,"s1":-0.38,"s2":-0.45,"sig":1},
{"p":"h","g":"ICA-FIX","n":11,"m":-0.45,"lo":-0.475,"hi":-0.425,"s1":-0.42,"s2":-0.49,"sig":1},
{"p":"h","g":"ICA-FIX","n":12,"m":-0.48,"lo":-0.505,"hi":-0.455,"s1":-0.45,"s2":-0.52,"sig":1},
{"p":"h","g":"ICA-FIX","n":13,"m":-0.49,"lo":-0.515,"hi":-0.465,"s1":-0.46,"s2":-0.52,"sig":1},
{"p":"h","g":"ICA-FIX","n":14,"m":-0.49,"lo":-0.515,"hi":-0.465,"s1":-0.46,"s2":-0.53,"sig":1},
{"p":"h","g":"ICA-FIX","n":15,"m":-0.47,"lo":-0.495,"hi":-0.445,"s1":-0.44,"s2":-0.5,"sig":1},
{"p":"h","g":"ICA-FIX","n":16,"m":-0.5,"lo":-0.525,"hi":-0.475,"s1":-0.47,"s2":-0.53,"sig":1},
{"p":"h","g":"ICA-FIX","n":17,"m":-0.52,"lo":-0.545,"hi":-0.495,"s1":-0.49,"s2":-0.55,"sig":1},
{"p":"h","g":"ICA-FIX","n":18,"m":-0.54,"lo":-0.565,"hi":-0.515,"s1":-0.51,"s2":-0.57,"sig":1},
{"p":"h","g":"ICA-FIX","n":19,"m":-0.55,"lo":-0.575,"hi":-0.525,"s1":-0.52,"s2":-0.58,"sig":1},
{"p":"h","g":"ICA-FIX","n":20,"m":-0.55,"lo":-0.575,"hi":-0.525,"s1":-0.52,"s2":-0.58,"sig":1},
{"p":"h","g":"Minimal","n":2,"m":-0.46,"lo":-0.49,"hi":-0.43,"s1":-0.4,"s2":-0.5,"sig":1},
{"p":"h","g":"Minimal","n":3,"m":-0.69,"lo":-0.71,"hi":-0.67,"s1":-0.64,"s2":-0.72,"sig":1},
{"p":"h","g":"Minimal","n":4,"m":-0.64,"lo":-0.66,"hi":-0.62,"s1":-0.6,"s2":-0.67,"sig":1},
{"p":"h","g":"Minimal","n":5,"m":-0.61,"lo":-0.63,"hi":-0.59,"s1":-0.58,"s2":-0.64,"sig":1},
{"p":"h","g":"Minimal","n":6,"m":-0.72,"lo":-0.745,"hi":-0.695,"s1":-0.69,"s2":-0.76,"sig":1},
{"p":"h","g":"Minimal","n":7,"m":-0.74,"lo":-0.76,"hi":-0.72,"s1":-0.7,"s2":-0.77,"sig":1},
{"p":"h","g":"Minimal","n":8,"m":-0.69,"lo":-0.71,"hi":-0.67,"s1":-0.66,"s2":-0.72,"sig":1},
{"p":"h","g":"Minimal","n":9,"m":-0.67,"lo":-0.685,"hi":-0.655,"s1":-0.65,"s2":-0.7,"sig":1},
{"p":"h","g":"Minimal","n":10,"m":-0.64,"lo":-0.655,"hi":-0.625,"s1":-0.62,"s2":-0.66,"sig":1},
{"p":"h","g":"Minimal","n":11,"m":-0.68,"lo":-0.695,"hi":-0.665,"s1":-0.66,"s2":-0.7,"sig":1},
{"p":"h","g":"Minimal","n":12,"m":-0.69,"lo":-0.705,"hi":-0.675,"s1":-0.67,"s2":-0.71,"sig":1},
{"p":"h","g":"Minimal","n":13,"m":-0.71,"lo":-0.725,"hi":-0.695,"s1":-0.69,"s2":-0.73,"sig":1},
{"p":"h","g":"Minimal","n":14,"m":-0.72,"lo":-0.735,"hi":-0.705,"s1":-0.7,"s2":-0.74,"sig":1},
{"p":"h","g":"Minimal","n":15,"m":-0.73,"lo":-0.745,"hi":-0.715,"s1":-0.71,"s2":-0.75,"sig":1},
{"p":"h","g":"Minimal","n":16,"m":-0.74,"lo":-0.755,"hi":-0.725,"s1":-0.72,"s2":-0.76,"sig":1},
{"p":"h","g":"Minimal","n":17,"m":-0.75,"lo":-0.765,"hi":-0.735,"s1":-0.73,"s2":-0.77,"sig":1},
{"p":"h","g":"Minimal","n":18,"m":-0.755,"lo":-0.77,"hi":-0.74,"s1":-0.735,"s2":-0.775,"sig":1},
{"p":"h","g":"Minimal","n":19,"m":-0.76,"lo":-0.775,"hi":-0.745,"s1":-0.74,"s2":-0.78,"sig":1},
{"p":"h","g":"Minimal","n":20,"m":-0.77,"lo":-0.785,"hi":-0.755,"s1":-0.75,"s2":-0.79,"sig":1}
]},
"columns": 4,
"align": "each",
"bounds": "flush",
"spacing": {"row": 64, "column": 50},
"resolve": {"scale": {"x": "independent", "y": "independent", "color": "shared", "fill": "shared", "stroke": "shared"}},
"concat": [
{
 "width": 120, "height": 91,
 "title": {"text": "a", "dx": -5},
 "transform": [{"filter": "datum.p=='a'"}],
 "encoding": {"x": {"field": "n", "type": "quantitative", "scale": {"domain": [-1, 20.9], "nice": false, "zero": false}, "axis": {"values": [10, 20], "tickCount": 20, "title": ["n of gradients used", "in alignment"]}}},
 "layer": [
  {"mark": {"type": "area", "opacity": 0.3}, "encoding": {"y": {"field": "lo", "type": "quantitative", "scale": {"domain": [-0.085, 0.5], "nice": false, "zero": false}, "axis": {"values": [0, 0.2, 0.4], "tickCount": 20, "format": ".1f", "labelOverlap": false, "title": "Pearson's r (FD, Transₜₒₜₐₗ)"}}, "y2": {"field": "hi"}, "color": {"field": "g", "type": "nominal", "scale": {"domain": ["Minimal", "ICA-FIX"], "range": ["#45b5dc", "#e9533f"]}, "legend": null}}},
  {"transform": [{"fold": ["s1", "s2"], "as": ["k", "v"]}], "mark": {"type": "circle", "size": 6, "opacity": 0.85}, "encoding": {"y": {"field": "v", "type": "quantitative"}, "fill": {"field": "g", "type": "nominal", "scale": {"domain": ["Minimal", "ICA-FIX", "x"], "range": ["#8fb3bd", "#c9938e", "#999999"]}, "legend": null}}},
  {"mark": {"type": "line", "strokeWidth": 1.3}, "encoding": {"y": {"field": "m", "type": "quantitative"}, "stroke": {"field": "g", "type": "nominal", "scale": {"domain": ["ICA-FIX", "Minimal"], "range": ["#e9533f", "#45b5dc"]}, "legend": {"title": "Preprocessing", "orient": "none", "legendX": 597, "legendY": 7, "symbolType": "M-1.6,0L1.6,0M-0.4,-0.4L0.4,0.4M-0.4,0.4L0.4,-0.4", "symbolSize": 64, "symbolStrokeWidth": 1.1, "labelOffset": 9, "titleFontSize": 7.6, "titleFontWeight": "normal", "labelFontSize": 7, "rowPadding": 1.5, "titlePadding": 3}}}},
  {"mark": {"type": "point", "shape": "M-1,-1L1,1M-1,1L1,-1", "size": 12, "strokeWidth": 0.8, "color": "#333333", "filled": false, "opacity": 1}, "encoding": {"y": {"field": "m", "type": "quantitative"}, "detail": {"field": "g"}}},
  {"transform": [{"filter": "datum.sig==1 && datum.g=='Minimal'"}], "mark": {"type": "point", "shape": "M0,-1L0,1M-0.87,-0.5L0.87,0.5M-0.87,0.5L0.87,-0.5", "size": 20, "strokeWidth": 0.9, "color": "#5bc4e4", "filled": false, "opacity": 1}, "encoding": {"y": {"datum": 0.522}}}
 ]
},
{
 "width": 108, "height": 91,
 "title": {"text": "b", "dx": -4},
 "transform": [{"filter": "datum.p=='b'"}],
 "encoding": {"x": {"field": "n", "type": "quantitative", "scale": {"domain": [1.1, 20.9], "nice": false, "zero": false}, "axis": {"values": [10, 20], "tickCount": 20, "title": ["n of gradients used", "in alignment"]}}},
 "layer": [
  {"mark": {"type": "area", "opacity": 0.3}, "encoding": {"y": {"field": "lo", "type": "quantitative", "scale": {"domain": [-0.095, 0.5], "nice": false, "zero": false}, "axis": {"values": [0, 0.2, 0.4], "tickCount": 20, "format": ".1f", "labelOverlap": false, "title": "Pearson's r (FD, Trans_FC)"}}, "y2": {"field": "hi"}, "color": {"field": "g", "type": "nominal", "legend": null}}},
  {"transform": [{"fold": ["s1", "s2"], "as": ["k", "v"]}], "mark": {"type": "circle", "size": 6, "opacity": 0.85}, "encoding": {"y": {"field": "v", "type": "quantitative"}, "fill": {"field": "g", "type": "nominal", "legend": null}}},
  {"mark": {"type": "line", "strokeWidth": 1.3}, "encoding": {"y": {"field": "m", "type": "quantitative"}, "stroke": {"field": "g", "type": "nominal"}}},
  {"mark": {"type": "point", "shape": "M-1,-1L1,1M-1,1L1,-1", "size": 12, "strokeWidth": 0.8, "color": "#333333", "filled": false, "opacity": 1}, "encoding": {"y": {"field": "m", "type": "quantitative"}, "detail": {"field": "g"}}},
  {"transform": [{"filter": "datum.sig==1 && datum.g=='Minimal'"}], "mark": {"type": "point", "shape": "M0,-1L0,1M-0.87,-0.5L0.87,0.5M-0.87,0.5L0.87,-0.5", "size": 20, "strokeWidth": 0.9, "color": "#5bc4e4", "filled": false, "opacity": 1}, "encoding": {"y": {"datum": 0.522}}}
 ]
},
{
 "width": 108, "height": 91,
 "title": {"text": "c", "dx": 0},
 "transform": [{"filter": "datum.p=='c'"}],
 "encoding": {"x": {"field": "n", "type": "quantitative", "scale": {"domain": [1.1, 20.9], "nice": false, "zero": false}, "axis": {"values": [10, 20], "tickCount": 20, "title": ["n of gradients used", "in alignment"]}}},
 "layer": [
  {"mark": {"type": "area", "opacity": 0.3}, "encoding": {"y": {"field": "lo", "type": "quantitative", "scale": {"domain": [-0.5, 0.0], "nice": false, "zero": false}, "axis": {"values": [0, -0.1, -0.2, -0.3, -0.4, -0.5], "tickCount": 20, "format": ".1f", "labelOverlap": false, "title": "Pearson's r (FD, W₂)"}}, "y2": {"field": "hi"}, "color": {"field": "g", "type": "nominal", "legend": null}}},
  {"transform": [{"fold": ["s1", "s2"], "as": ["k", "v"]}], "mark": {"type": "circle", "size": 6, "opacity": 0.85}, "encoding": {"y": {"field": "v", "type": "quantitative"}, "fill": {"field": "g", "type": "nominal", "legend": null}}},
  {"mark": {"type": "line", "strokeWidth": 1.3}, "encoding": {"y": {"field": "m", "type": "quantitative"}, "stroke": {"field": "g", "type": "nominal"}}},
  {"mark": {"type": "point", "shape": "M-1,-1L1,1M-1,1L1,-1", "size": 12, "strokeWidth": 0.8, "color": "#333333", "filled": false, "opacity": 1}, "encoding": {"y": {"field": "m", "type": "quantitative"}, "detail": {"field": "g"}}},
  {"transform": [{"filter": "datum.sig==1 && datum.g=='Minimal'"}], "mark": {"type": "point", "shape": "M0,-1L0,1M-0.87,-0.5L0.87,0.5M-0.87,0.5L0.87,-0.5", "size": 20, "strokeWidth": 0.9, "color": "#5bc4e4", "filled": false, "opacity": 1}, "encoding": {"y": {"datum": 0.012}}}
 ]
},
{
 "width": 108, "height": 91,
 "title": {"text": "d", "dx": -2},
 "transform": [{"filter": "datum.p=='d'"}],
 "encoding": {"x": {"field": "n", "type": "quantitative", "scale": {"domain": [1.1, 20.9], "nice": false, "zero": false}, "axis": {"values": [10, 20], "tickCount": 20, "title": ["n of gradients used", "in alignment"]}}},
 "layer": [
  {"mark": {"type": "area", "opacity": 0.3}, "encoding": {"y": {"field": "lo", "type": "quantitative", "scale": {"domain": [-0.095, 0.5], "nice": false, "zero": false}, "axis": {"values": [0, 0.2, 0.4], "tickCount": 20, "format": ".1f", "labelOverlap": false, "title": "Pearson's r (FD, ‖θ‖₂)"}}, "y2": {"field": "hi"}, "color": {"field": "g", "type": "nominal", "legend": null}}},
  {"transform": [{"fold": ["s1", "s2"], "as": ["k", "v"]}], "mark": {"type": "circle", "size": 6, "opacity": 0.85}, "encoding": {"y": {"field": "v", "type": "quantitative"}, "fill": {"field": "g", "type": "nominal", "legend": null}}},
  {"mark": {"type": "line", "strokeWidth": 1.3}, "encoding": {"y": {"field": "m", "type": "quantitative"}, "stroke": {"field": "g", "type": "nominal"}}},
  {"mark": {"type": "point", "shape": "M-1,-1L1,1M-1,1L1,-1", "size": 12, "strokeWidth": 0.8, "color": "#333333", "filled": false, "opacity": 1}, "encoding": {"y": {"field": "m", "type": "quantitative"}, "detail": {"field": "g"}}},
  {"transform": [{"filter": "datum.sig==1 && datum.g=='Minimal'"}], "mark": {"type": "point", "shape": "M0,-1L0,1M-0.87,-0.5L0.87,0.5M-0.87,0.5L0.87,-0.5", "size": 20, "strokeWidth": 0.9, "color": "#5bc4e4", "filled": false, "opacity": 1}, "encoding": {"y": {"datum": 0.522}}},
  {"transform": [{"filter": "datum.sig==1 && datum.g=='ICA-FIX'"}], "mark": {"type": "point", "shape": "M0,-1L0,1M-0.87,-0.5L0.87,0.5M-0.87,0.5L0.87,-0.5", "size": 20, "strokeWidth": 0.9, "color": "#ef6a5a", "filled": false, "opacity": 1}, "encoding": {"y": {"datum": 0.542}}}
 ]
},
{
 "width": 120, "height": 91,
 "title": {"text": "e", "dx": 11},
 "transform": [{"filter": "datum.p=='e'"}],
 "encoding": {"x": {"field": "n", "type": "quantitative", "scale": {"domain": [1.1, 20.9], "range": [13, 120], "nice": false, "zero": false}, "axis": {"values": [10, 20], "tickCount": 20, "title": ["n of gradients used", "in alignment"]}}},
 "layer": [
  {"mark": {"type": "area", "opacity": 0.3}, "encoding": {"y": {"field": "lo", "type": "quantitative", "scale": {"domain": [-0.8, 0.0], "nice": false, "zero": false}, "axis": {"values": [0, -0.2, -0.4, -0.6, -0.8], "tickCount": 20, "format": ".1f", "labelOverlap": false, "offset": -13, "title": "Pearson's r (TFC, Transₜₒₜₐₗ)"}}, "y2": {"field": "hi"}, "color": {"field": "g", "type": "nominal", "legend": null}}},
  {"transform": [{"fold": ["s1", "s2"], "as": ["k", "v"]}], "mark": {"type": "circle", "size": 6, "opacity": 0.85}, "encoding": {"y": {"field": "v", "type": "quantitative"}, "fill": {"field": "g", "type": "nominal", "legend": null}}},
  {"mark": {"type": "line", "strokeWidth": 1.3}, "encoding": {"y": {"field": "m", "type": "quantitative"}, "stroke": {"field": "g", "type": "nominal"}}},
  {"mark": {"type": "point", "shape": "M-1,-1L1,1M-1,1L1,-1", "size": 12, "strokeWidth": 0.8, "color": "#333333", "filled": false, "opacity": 1}, "encoding": {"y": {"field": "m", "type": "quantitative"}, "detail": {"field": "g"}}},
  {"transform": [{"filter": "datum.sig==1 && datum.g=='Minimal'"}], "mark": {"type": "point", "shape": "M0,-1L0,1M-0.87,-0.5L0.87,0.5M-0.87,0.5L0.87,-0.5", "size": 20, "strokeWidth": 0.9, "color": "#5bc4e4", "filled": false, "opacity": 1}, "encoding": {"y": {"datum": 0.036}}},
  {"transform": [{"filter": "datum.sig==1 && datum.g=='ICA-FIX'"}], "mark": {"type": "point", "shape": "M0,-1L0,1M-0.87,-0.5L0.87,0.5M-0.87,0.5L0.87,-0.5", "size": 20, "strokeWidth": 0.9, "color": "#ef6a5a", "filled": false, "opacity": 1}, "encoding": {"y": {"datum": 0.06}}}
 ]
},
{
 "width": 108, "height": 91,
 "title": {"text": "f", "dx": 0},
 "transform": [{"filter": "datum.p=='f'"}],
 "encoding": {"x": {"field": "n", "type": "quantitative", "scale": {"domain": [1.1, 20.9], "nice": false, "zero": false}, "axis": {"values": [5, 10, 15, 20], "tickCount": 20, "title": ["n of gradients used", "in alignment"]}}},
 "layer": [
  {"mark": {"type": "area", "opacity": 0.3}, "encoding": {"y": {"field": "lo", "type": "quantitative", "scale": {"domain": [-0.8, 0.0], "nice": false, "zero": false}, "axis": {"values": [0, -0.2, -0.4, -0.6, -0.8], "tickCount": 20, "format": ".1f", "labelOverlap": false, "title": "Pearson's r (TFC, Trans_FC)"}}, "y2": {"field": "hi"}, "color": {"field": "g", "type": "nominal", "legend": null}}},
  {"transform": [{"fold": ["s1", "s2"], "as": ["k", "v"]}], "mark": {"type": "circle", "size": 6, "opacity": 0.85}, "encoding": {"y": {"field": "v", "type": "quantitative"}, "fill": {"field": "g", "type": "nominal", "legend": null}}},
  {"mark": {"type": "line", "strokeWidth": 1.3}, "encoding": {"y": {"field": "m", "type": "quantitative"}, "stroke": {"field": "g", "type": "nominal"}}},
  {"mark": {"type": "point", "shape": "M-1,-1L1,1M-1,1L1,-1", "size": 12, "strokeWidth": 0.8, "color": "#333333", "filled": false, "opacity": 1}, "encoding": {"y": {"field": "m", "type": "quantitative"}, "detail": {"field": "g"}}},
  {"transform": [{"filter": "datum.sig==1 && datum.g=='Minimal'"}], "mark": {"type": "point", "shape": "M0,-1L0,1M-0.87,-0.5L0.87,0.5M-0.87,0.5L0.87,-0.5", "size": 20, "strokeWidth": 0.9, "color": "#5bc4e4", "filled": false, "opacity": 1}, "encoding": {"y": {"datum": 0.036}}},
  {"transform": [{"filter": "datum.sig==1 && datum.g=='ICA-FIX'"}], "mark": {"type": "point", "shape": "M0,-1L0,1M-0.87,-0.5L0.87,0.5M-0.87,0.5L0.87,-0.5", "size": 20, "strokeWidth": 0.9, "color": "#ef6a5a", "filled": false, "opacity": 1}, "encoding": {"y": {"datum": 0.06}}}
 ]
},
{
 "width": 108, "height": 91,
 "title": {"text": "g", "dx": 0},
 "transform": [{"filter": "datum.p=='g'"}],
 "encoding": {"x": {"field": "n", "type": "quantitative", "scale": {"domain": [1.1, 20.9], "nice": false, "zero": false}, "axis": {"values": [10, 20], "tickCount": 20, "title": ["n of gradients used", "in alignment"]}}},
 "layer": [
  {"mark": {"type": "area", "opacity": 0.3}, "encoding": {"y": {"field": "lo", "type": "quantitative", "scale": {"domain": [0.5, 0.92], "nice": false, "zero": false}, "axis": {"values": [0.5, 0.6, 0.7, 0.8, 0.9], "tickCount": 20, "format": ".1f", "labelOverlap": false, "title": "Pearson's r (TFC, W₂)"}}, "y2": {"field": "hi"}, "color": {"field": "g", "type": "nominal", "legend": null}}},
  {"transform": [{"fold": ["s1", "s2"], "as": ["k", "v"]}], "mark": {"type": "circle", "size": 6, "opacity": 0.85}, "encoding": {"y": {"field": "v", "type": "quantitative"}, "fill": {"field": "g", "type": "nominal", "legend": null}}},
  {"mark": {"type": "line", "strokeWidth": 1.3}, "encoding": {"y": {"field": "m", "type": "quantitative"}, "stroke": {"field": "g", "type": "nominal"}}},
  {"mark": {"type": "point", "shape": "M-1,-1L1,1M-1,1L1,-1", "size": 12, "strokeWidth": 0.8, "color": "#333333", "filled": false, "opacity": 1}, "encoding": {"y": {"field": "m", "type": "quantitative"}, "detail": {"field": "g"}}},
  {"transform": [{"filter": "datum.sig==1 && datum.g=='Minimal'"}], "mark": {"type": "point", "shape": "M0,-1L0,1M-0.87,-0.5L0.87,0.5M-0.87,0.5L0.87,-0.5", "size": 20, "strokeWidth": 0.9, "color": "#5bc4e4", "filled": false, "opacity": 1}, "encoding": {"y": {"datum": 0.914}}},
  {"transform": [{"filter": "datum.sig==1 && datum.g=='ICA-FIX'"}], "mark": {"type": "point", "shape": "M0,-1L0,1M-0.87,-0.5L0.87,0.5M-0.87,0.5L0.87,-0.5", "size": 20, "strokeWidth": 0.9, "color": "#ef6a5a", "filled": false, "opacity": 1}, "encoding": {"y": {"datum": 0.934}}}
 ]
},
{
 "width": 108, "height": 91,
 "title": {"text": "h", "dx": -2},
 "transform": [{"filter": "datum.p=='h'"}],
 "encoding": {"x": {"field": "n", "type": "quantitative", "scale": {"domain": [1.1, 20.9], "nice": false, "zero": false}, "axis": {"values": [10, 20], "tickCount": 20, "title": ["n of gradients used", "in alignment"]}}},
 "layer": [
  {"mark": {"type": "area", "opacity": 0.3}, "encoding": {"y": {"field": "lo", "type": "quantitative", "scale": {"domain": [-0.8, 0.0], "nice": false, "zero": false}, "axis": {"values": [0, -0.2, -0.4, -0.6, -0.8], "tickCount": 20, "format": ".1f", "labelOverlap": false, "title": "Pearson's r (TFC, ‖θ‖₂)"}}, "y2": {"field": "hi"}, "color": {"field": "g", "type": "nominal", "legend": null}}},
  {"transform": [{"fold": ["s1", "s2"], "as": ["k", "v"]}], "mark": {"type": "circle", "size": 6, "opacity": 0.85}, "encoding": {"y": {"field": "v", "type": "quantitative"}, "fill": {"field": "g", "type": "nominal", "legend": null}}},
  {"mark": {"type": "line", "strokeWidth": 1.3}, "encoding": {"y": {"field": "m", "type": "quantitative"}, "stroke": {"field": "g", "type": "nominal"}}},
  {"mark": {"type": "point", "shape": "M-1,-1L1,1M-1,1L1,-1", "size": 12, "strokeWidth": 0.8, "color": "#333333", "filled": false, "opacity": 1}, "encoding": {"y": {"field": "m", "type": "quantitative"}, "detail": {"field": "g"}}},
  {"transform": [{"filter": "datum.sig==1 && datum.g=='Minimal'"}], "mark": {"type": "point", "shape": "M0,-1L0,1M-0.87,-0.5L0.87,0.5M-0.87,0.5L0.87,-0.5", "size": 20, "strokeWidth": 0.9, "color": "#5bc4e4", "filled": false, "opacity": 1}, "encoding": {"y": {"datum": 0.036}}},
  {"transform": [{"filter": "datum.sig==1 && datum.g=='ICA-FIX'"}], "mark": {"type": "point", "shape": "M0,-1L0,1M-0.87,-0.5L0.87,0.5M-0.87,0.5L0.87,-0.5", "size": 20, "strokeWidth": 0.9, "color": "#ef6a5a", "filled": false, "opacity": 1}, "encoding": {"y": {"datum": 0.06}}}
 ]
}
],
"config": {
 "font": "DejaVu Sans",
 "view": {"stroke": null},
 "axis": {"grid": false, "labelOverlap": false, "domainColor": "#000000", "tickColor": "#000000", "labelColor": "#000000", "titleColor": "#000000", "labelFont": "DejaVu Sans", "titleFont": "DejaVu Sans", "labelFontSize": 8, "titleFontSize": 6.5, "titleFontWeight": "bold", "tickSize": 3.5, "domainWidth": 1.1, "tickWidth": 0.9, "labelPadding": 1.5, "titlePadding": 3},
 "axisX": {"titleLineHeight": 7.5},
 "title": {"anchor": "start", "frame": "group", "fontSize": 13, "fontWeight": "bold", "offset": -6, "color": "#000000", "font": "DejaVu Sans"},
 "legend": {"titleFont": "DejaVu Sans", "labelFont": "DejaVu Sans", "titleColor": "#000000", "labelColor": "#000000"}
}
}
